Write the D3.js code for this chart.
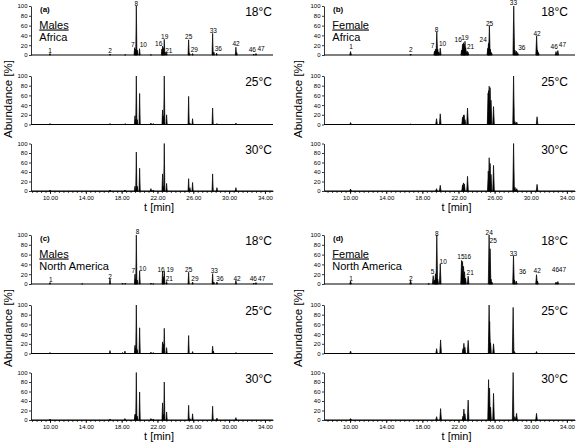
<!DOCTYPE html>
<html><head><meta charset="utf-8">
<script src="https://cdn.jsdelivr.net/npm/d3@7"></script>
<style>body{margin:0;background:#fff} svg{display:block}</style>
</head><body>
<svg id="c" width="576" height="447"></svg>
<script>
// ---------- data ----------
const temperatures = ["18°C", "25°C", "30°C"];
const yTickValues = [0, 20, 40, 60, 80, 100];
const xTickValues = [10, 14, 18, 22, 26, 30, 34];

// peaks: [retention time (min), abundance (%)]
const maleAfrica18 = [[10.0,3],[16.7,2],[18.4,1],[19.45,15],[19.55,12],[19.64,100],[19.75,10],[20.0,13],[21.27,1],
  [22.5,12],[22.57,18],[22.65,15],[22.76,32],[22.85,6],[23.02,5],[25.48,31],[25.6,3],[25.92,3],
  [28.16,44],[28.3,6],[28.6,4],[30.76,16],[30.85,5],[32.75,2],[33.0,3]];
const maleAfrica25 = [[10.0,2],[16.7,2],[18.4,2],[19.49,18],[19.55,10],[19.64,100],[19.75,10],[20.01,64],
  [21.27,3],[21.53,2],[22.57,30],[22.65,18],[22.76,100],[23.02,20],[25.48,58],[25.62,3],[25.92,12],
  [28.16,34],[28.64,2],[30.76,3]];
const maleAfrica30 = [[10.0,2],[16.7,2],[18.37,2],[19.49,10],[19.64,82],[19.75,10],[20.01,48],[21.27,5],[21.53,2],
  [22.57,36],[22.65,10],[22.76,100],[23.02,16],[25.48,26],[25.62,7],[25.92,18],[28.16,36],[28.64,7],[30.76,7]];

const femaleAfrica18 = [[10.05,7],[16.7,2],[19.35,8],[19.45,12],[19.53,10],[19.6,47],[19.7,12],[19.8,6],[19.98,14],
  [22.35,10],[22.45,22],[22.55,25],[22.62,22],[22.72,28],[22.8,15],[22.95,8],[23.05,6],
  [25.25,14],[25.32,24],[25.42,60],[25.52,12],[25.65,5],[28.12,100],[28.25,10],[28.4,8],[28.55,5],
  [30.65,39],[30.75,10],[30.85,5],[32.8,7],[33.0,9]];
const femaleAfrica25 = [[10.05,4],[16.7,1],[19.57,12],[19.98,22],[22.45,15],[22.55,19],[22.62,20],[22.72,10],[23.0,34],
  [25.28,65],[25.34,70],[25.4,79],[25.5,76],[25.6,50],[25.88,37],[28.1,100],[28.25,6],[28.45,5],[30.7,16]];
const femaleAfrica30 = [[10.05,4],[19.57,5],[19.98,12],[22.45,13],[22.55,17],[22.65,15],[23.0,31],
  [25.3,42],[25.4,70],[25.5,58],[25.6,35],[25.88,54],[28.1,100],[28.25,8],[28.45,5],[30.7,14]];

const maleNA18 = [[10.0,3],[13.6,1],[16.7,11],[18.1,2],[18.4,2],[19.49,20],[19.55,10],[19.64,100],[19.75,8],[20.01,27],
  [21.27,2],[21.53,1],[22.57,26],[22.65,15],[22.76,26],[23.02,5],[25.48,24],[25.92,4],
  [28.16,21],[28.3,4],[28.64,4],[30.76,7],[32.75,2],[33.0,3]];
const maleNA25 = [[10.0,2],[16.7,6],[18.1,2],[18.37,5],[19.49,17],[19.55,12],[19.64,100],[19.75,8],[20.01,53],
  [21.27,3],[21.53,2],[22.57,24],[22.65,20],[22.76,52],[23.02,12],[25.48,37],[25.92,4],[28.16,15],[28.25,5],[30.76,2]];
const maleNA30 = [[10.0,2],[16.7,2],[18.37,3],[19.49,12],[19.55,12],[19.64,100],[19.75,8],[20.01,59],[21.27,3],[21.53,2],
  [22.57,36],[22.65,12],[22.76,80],[23.02,17],[25.48,31],[25.62,3],[25.92,13],[28.16,29],[28.64,4],[30.76,5]];

const femaleNA18 = [[10.05,6],[16.7,7],[18.7,1],[19.2,17],[19.35,8],[19.45,21],[19.55,12],[19.6,100],[19.7,10],[19.98,41],
  [22.34,48],[22.45,46],[22.56,36],[22.67,25],[22.78,12],[23.07,16],[25.39,100],[25.5,72],[25.6,10],[25.7,4],
  [28.09,58],[28.2,8],[28.4,6],[30.64,19],[30.75,6],[32.8,4],[33.0,5]];
const femaleNA25 = [[10.05,5],[19.58,10],[20.02,28],[22.5,10],[22.6,21],[22.71,13],[23.07,27],
  [25.39,100],[25.45,66],[25.55,22],[25.88,20],[28.05,95],[28.2,4],[30.64,4]];
const femaleNA30 = [[10.05,3],[19.58,7],[20.02,24],[22.5,8],[22.6,23],[22.71,13],[23.07,42],
  [25.33,85],[25.44,67],[25.55,27],[25.88,56],[28.05,100],[28.24,7],[28.43,14],[30.64,14]];

// compound labels on the 18°C traces: [label, time, abundance]
const labelsA = [["1",10.0,5],["2",16.7,5],["7",19.24,17],["8",19.64,101],["10",20.42,17],["16",22.14,18],["19",22.81,33],["21",23.26,5],["25",25.49,33],["29",26.11,6],["33",28.24,44],["36",28.79,8],["42",30.77,18],["46",32.59,5.5],["47",33.56,7.5]];
const labelsB = [["1",10.1,13],["2",16.73,5.5],["7",19.13,15],["8",19.58,47.5],["10",20.24,19],["16",21.97,26],["19",22.71,30.6],["21",23.34,12],["24",24.73,26],["25",25.44,60],["33",28.09,101.5],["36",29.01,10],["42",30.7,39],["46",32.59,12],["47",33.51,16]];
const labelsC = [["1",10.08,3.3],["2",16.7,10],["7",19.3,23],["8",19.79,102],["10",20.35,26],["16",22.4,25.5],["19",23.4,25.5],["21",23.33,5.4],["25",25.49,25.5],["29",26.19,5.4],["33",28.35,23],["36",28.98,7],["42",30.88,6],["46",32.7,5.4],["47",33.64,5.4]];
const labelsD = [["1",10.1,5.4],["2",16.73,7],["5",19.13,20.7],["8",19.61,98],["10",20.31,41],["15",22.27,52],["16",23.01,52],["21",23.29,18.6],["24",25.4,101],["25",25.84,83],["33",28.09,58],["36",29.09,20.7],["42",30.71,22],["46",32.74,24],["47",33.51,24]];

// ---------- layout ----------
const FONT = "'Liberation Sans', Arial, Helvetica, sans-serif";
const svg = d3.select("#c");
const rowTop = [6, 76, 143.5], rowZero = [55, 124.5, 191];
const panels = [
  {tag:"(a)", sex:"Males", region:"Africa", traces:[maleAfrica18, maleAfrica25, maleAfrica30], labels:labelsA,
   dom:[7.88, 34.9], rng:[31, 273], dy:0, tempX:272, yTitleX:11.5, female:false},
  {tag:"(b)", sex:"Female", region:"Africa", traces:[femaleAfrica18, femaleAfrica25, femaleAfrica30], labels:labelsB,
   dom:[7.11, 34.9], rng:[324, 575], dy:0, tempX:568, yTitleX:301.5, female:true},
  {tag:"(c)", sex:"Males", region:"North America", traces:[maleNA18, maleNA25, maleNA30], labels:labelsC,
   dom:[7.88, 34.9], rng:[31, 273], dy:229, tempX:272, yTitleX:11.5, female:false},
  {tag:"(d)", sex:"Female", region:"North America", traces:[femaleNA18, femaleNA25, femaleNA30], labels:labelsD,
   dom:[7.11, 34.9], rng:[324, 575], dy:229, tempX:568, yTitleX:301.5, female:true}
];

panels.forEach(p => {
  const g = svg.append("g").attr("transform", `translate(0,${p.dy})`);
  const x = d3.scaleLinear().domain(p.dom).range(p.rng);
  const hw = p.female ? 0.8 : 0.6;

  p.traces.forEach((peaks, r) => {
    const y = d3.scaleLinear().domain([0, 100]).range([rowZero[r], rowTop[r]]);
    const yAxis = d3.axisLeft(y).tickValues(yTickValues).tickSize(2).tickSizeOuter(0).tickPadding(1.5);
    const ya = g.append("g").attr("transform", `translate(${p.rng[0]},0)`).call(yAxis);
    ya.selectAll("text").attr("font-size", 6).attr("font-family", FONT).attr("fill", "#000");
    ya.selectAll("line,path").attr("stroke", "#000").attr("stroke-width", 0.8);

    // baseline
    g.append("line").attr("x1", p.rng[0]).attr("x2", p.rng[1])
      .attr("y1", y(0)).attr("y2", y(0)).attr("stroke", "#000").attr("stroke-width", 1.1);

    // peaks
    g.append("g").selectAll("path").data(peaks).join("path")
      .attr("d", d => {
        const cx = x(d[0]), b = y(0), t = y(d[1]);
        return `M${cx - hw},${b}L${cx},${t}L${cx + hw},${b}Z`;
      })
      .attr("fill", "#000").attr("stroke", "#000").attr("stroke-width", 0.7).attr("stroke-linejoin", "miter");

    // temperature label
    g.append("text").attr("x", p.tempX).attr("y", y(100) + 10)
      .attr("text-anchor", "end").attr("font-family", FONT).attr("font-size", 12).text(temperatures[r]);

    if (r === 0) {
      g.append("g").selectAll("text").data(p.labels).join("text")
        .attr("x", d => x(d[1])).attr("y", d => y(d[2]))
        .attr("text-anchor", "middle").attr("font-family", FONT).attr("font-size", 6.5)
        .text(d => d[0]);
    }
    if (r === 2) {
      const xa = d3.axisBottom(x).tickValues(xTickValues).tickFormat(d3.format(".2f"))
        .tickSize(3).tickSizeOuter(0).tickPadding(1.5);
      const gx = g.append("g").attr("transform", `translate(0,${y(0)})`).call(xa);
      gx.selectAll("text").attr("font-size", 6).attr("font-family", FONT).attr("fill", "#000");
      gx.selectAll("line,path").attr("stroke", "#000").attr("stroke-width", 0.8);
      const minor = d3.axisBottom(x).ticks(60).tickFormat("").tickSize(2).tickSizeOuter(0);
      const gm = g.append("g").attr("transform", `translate(0,${y(0)})`).call(minor);
      gm.select("path").remove();
      gm.selectAll("line").attr("stroke", "#000").attr("stroke-width", 0.7);
    }
  });

  // panel tag and group labels
  g.append("text").attr("x", p.rng[0] + 9).attr("y", 11.5).attr("font-family", FONT)
    .attr("font-size", 8).attr("font-weight", "bold").text(p.tag);
  g.append("text").attr("x", p.rng[0] + 8.3).attr("y", 28.5).attr("font-family", FONT)
    .attr("font-size", 11).attr("text-decoration", "underline").text(p.sex);
  g.append("text").attr("x", p.rng[0] + 8.3).attr("y", 41.3).attr("font-family", FONT)
    .attr("font-size", 11).text(p.region);

  // axis titles
  g.append("text").attr("transform", `translate(${p.yTitleX},${99}) rotate(-90)`)
    .attr("text-anchor", "middle").attr("font-family", FONT).attr("font-size", 11.5).text("Abundance [%]");
  g.append("text").attr("x", (p.rng[0] + p.rng[1]) / 2 + 7).attr("y", 210.5)
    .attr("text-anchor", "middle").attr("font-family", FONT).attr("font-size", 11).text("t [min]");
});
</script>
</body></html>
